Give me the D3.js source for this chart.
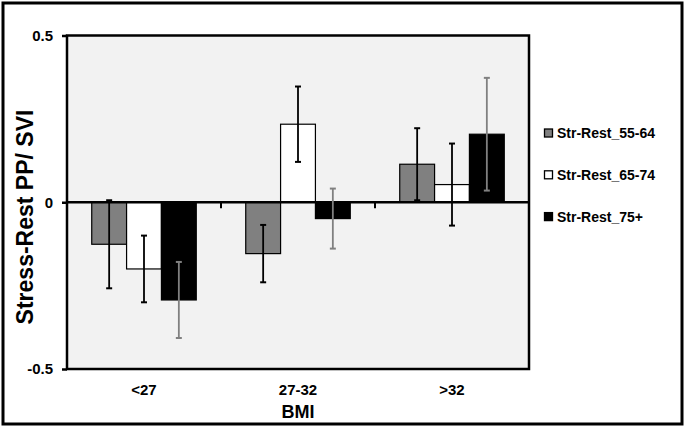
<!DOCTYPE html>
<html><head><meta charset="utf-8">
<script src="https://cdn.jsdelivr.net/npm/d3@7"></script>
<style>body{margin:0;background:#fff}svg{display:block}text{font-family:"Liberation Sans",Arial,sans-serif;font-weight:bold}</style>
</head><body>
<svg id="c" width="685" height="428"></svg>
<script>
const categories = ["<27", "27-32", ">32"];
const seriesNames = ["Str-Rest_55-64", "Str-Rest_65-74", "Str-Rest_75+"];
const values55 = [-0.126, -0.154, 0.114];
const errors55 = [0.132, 0.086, 0.108];
const values65 = [-0.200, 0.234, 0.053];
const errors65 = [0.100, 0.113, 0.123];
const values75 = [-0.293, -0.049, 0.204];
const errors75 = [0.114, 0.090, 0.169];
const yTicks = [-0.5, 0, 0.5];
const fills = ["#808080", "#ffffff", "#000000"];
const errColors = ["#000000", "#000000", "#808080"];

const vals = [values55, values65, values75];
const errs = [errors55, errors65, errors75];

const svg = d3.select("#c");
const L = 67, R = 529, T = 35.5, B = 369;

// outer frame
svg.append("rect").attr("x", 3).attr("y", 3).attr("width", 679).attr("height", 421)
  .attr("fill", "#fff").attr("stroke", "#000").attr("stroke-width", 3);

const y = d3.scaleLinear().domain([-0.5, 0.5]).range([B, T]);
const x0 = d3.scaleBand().domain(categories).range([L, R]).padding(0);
const x1 = d3.scaleBand().domain(seriesNames).range([0, x0.bandwidth()]).paddingInner(0).paddingOuter(0.71);

// plot background
svg.append("rect").attr("x", L).attr("y", T).attr("width", R - L).attr("height", B - T)
  .attr("fill", "#f2f2f2");

// bars
const data = [];
categories.forEach((c, ci) => seriesNames.forEach((s, si) => data.push({c, s, si, v: vals[si][ci], e: errs[si][ci]})));

svg.append("g").selectAll("rect").data(data).join("rect")
  .attr("x", d => x0(d.c) + x1(d.s))
  .attr("width", x1.bandwidth())
  .attr("y", d => y(Math.max(0, d.v)))
  .attr("height", d => Math.abs(y(d.v) - y(0)))
  .attr("fill", d => fills[d.si])
  .attr("stroke", "#000").attr("stroke-width", 1.2);

// zero line
svg.append("line").attr("x1", L).attr("x2", R).attr("y1", y(0)).attr("y2", y(0))
  .attr("stroke", "#000").attr("stroke-width", 2.5);

// category boundary ticks
svg.append("g").selectAll("line").data(categories.slice(1)).join("line")
  .attr("x1", d => x0(d)).attr("x2", d => x0(d))
  .attr("y1", y(0)).attr("y2", y(0) + 6)
  .attr("stroke", "#000").attr("stroke-width", 2);

// error bars
const eg = svg.append("g");
data.forEach(d => {
  const cx = x0(d.c) + x1(d.s) + x1.bandwidth() / 2;
  const col = errColors[d.si];
  const g = eg.append("g").attr("stroke", col).attr("stroke-width", 1.8);
  g.append("line").attr("x1", cx).attr("x2", cx).attr("y1", y(d.v + d.e)).attr("y2", y(d.v - d.e));
  g.append("line").attr("x1", cx - 3).attr("x2", cx + 3).attr("y1", y(d.v + d.e)).attr("y2", y(d.v + d.e)).attr("stroke-width", 2);
  g.append("line").attr("x1", cx - 3).attr("x2", cx + 3).attr("y1", y(d.v - d.e)).attr("y2", y(d.v - d.e)).attr("stroke-width", 2);
});

// plot border
svg.append("rect").attr("x", L).attr("y", T).attr("width", R - L).attr("height", B - T)
  .attr("fill", "none").attr("stroke", "#000").attr("stroke-width", 2.5);

// y axis
const ya = svg.append("g").attr("transform", `translate(${L},0)`)
  .call(d3.axisLeft(y).tickValues(yTicks).tickSize(5).tickPadding(9).tickFormat(d => String(d)));
ya.select(".domain").remove();
ya.selectAll(".tick line").attr("stroke", "#000").attr("stroke-width", 2.5);
ya.selectAll(".tick text").attr("font-size", 15).attr("fill", "#000")
  .style("font-family", '"Liberation Sans",Arial,sans-serif').style("font-weight", "bold");

// x category labels
svg.append("g").selectAll("text").data(categories).join("text")
  .attr("x", d => x0(d) + x0.bandwidth() / 2).attr("y", 395)
  .attr("text-anchor", "middle").attr("font-size", 15).text(d => d);

// axis titles
svg.append("text").attr("x", x0(categories[1]) + x0.bandwidth() / 2).attr("y", 418)
  .attr("text-anchor", "middle").attr("font-size", 18).text("BMI");
svg.append("text").attr("transform", "translate(33,217) rotate(-90)")
  .attr("text-anchor", "middle").attr("font-size", 23).text("Stress-Rest PP/ SVI");

// legend
const lg = svg.append("g").selectAll("g").data(seriesNames).join("g")
  .attr("transform", (d, i) => `translate(544,${138 + i * 41.8})`);
lg.append("rect").attr("x", 0.5).attr("y", -9).attr("width", 8).attr("height", 8)
  .attr("fill", (d, i) => fills[i]).attr("stroke", "#000").attr("stroke-width", 1.3);
lg.append("text").attr("x", 13).attr("y", 0).attr("font-size", 14).text(d => d);
</script>
</body></html>
